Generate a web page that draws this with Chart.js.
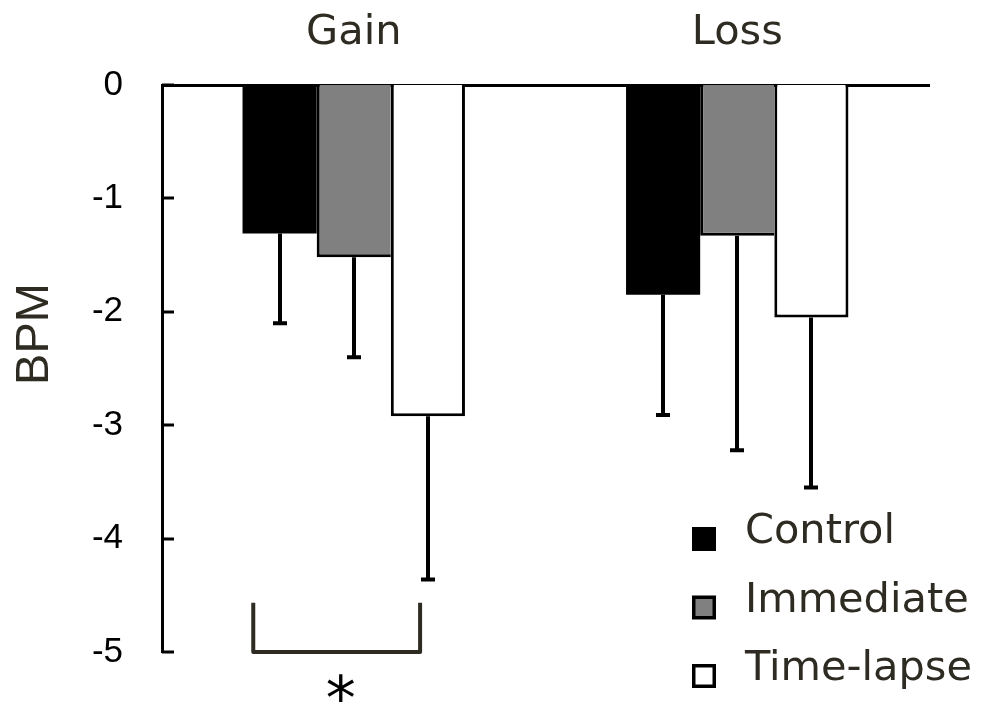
<!DOCTYPE html>
<html>
<head>
<meta charset="utf-8">
<script src="https://cdn.jsdelivr.net/npm/chart.js@4.4.1/dist/chart.umd.min.js"></script>
<style>
  html, body { margin: 0; padding: 0; background: #ffffff; }
  #wrap { width: 982px; height: 706px; }
</style>
</head>
<body>
<div id="wrap"><canvas id="chart" width="982" height="706"></canvas></div>
<script>
// Heart-rate change (BPM) by condition, with standard-error bars
const categories = ['Gain', 'Loss'];
const seriesNames = ['Control', 'Immediate', 'Time-lapse'];
const controlMeans = [-1.31, -1.85];
const controlErrors = [0.79, 1.06];
const immediateMeans = [-1.52, -1.33];
const immediateErrors = [0.88, 1.89];
const timelapseMeans = [-2.92, -2.05];
const timelapseErrors = [1.44, 1.50];
const yTicks = [0, -1, -2, -3, -4, -5];
const yAxisTitle = 'BPM';
// significance bracket: category index, x offsets in category units, y range in BPM
const sigCategory = 0;
const sigSpan = [-0.262, 0.173];
const sigRange = [-4.565, -5];
const sigLabel = '*';

const INK = '#2e2c22';

const extras = {
  id: 'extras',
  afterDatasetsDraw(chart) {
    const { ctx, scales: { y } } = chart;
    ctx.save();
    ctx.strokeStyle = '#000';
    ctx.lineWidth = 4;
    ctx.lineCap = 'butt';
    chart.data.datasets.forEach((ds, i) => {
      const meta = chart.getDatasetMeta(i);
      meta.data.forEach((bar, j) => {
        const yEnd = y.getPixelForValue(ds.data[j] - ds.errors[j]);
        const xc = Math.round(bar.x);
        ctx.beginPath();
        ctx.moveTo(xc, bar.y);
        ctx.lineTo(xc, yEnd);
        ctx.moveTo(xc - 7, yEnd);
        ctx.lineTo(xc + 7, yEnd);
        ctx.stroke();
      });
    });
    ctx.restore();
  },
  afterDraw(chart) {
    const { ctx, chartArea, scales: { x, y } } = chart;
    ctx.save();

    // inward tick marks on the value axis
    ctx.strokeStyle = '#000';
    ctx.lineWidth = 3;
    yTicks.forEach(v => {
      const py = Math.round(y.getPixelForValue(v));
      ctx.beginPath();
      ctx.moveTo(chartArea.left, py);
      ctx.lineTo(chartArea.left + 12, py);
      ctx.stroke();
    });

    // axis title
    ctx.fillStyle = INK;
    ctx.font = '47px "Liberation Sans", Arial, sans-serif';
    ctx.textAlign = 'center';
    ctx.textBaseline = 'alphabetic';
    ctx.translate(48, 334);
    ctx.rotate(-Math.PI / 2);
    ctx.fillText(yAxisTitle, 0, 0);
    ctx.setTransform(1, 0, 0, 1, 0, 0);

    // significance bracket
    const xl = x.getPixelForValue(sigCategory + sigSpan[0]);
    const xr = x.getPixelForValue(sigCategory + sigSpan[1]);
    const yt = y.getPixelForValue(sigRange[0]);
    const yb = y.getPixelForValue(sigRange[1]);
    ctx.strokeStyle = INK;
    ctx.lineWidth = 4;
    ctx.lineJoin = 'round';
    ctx.beginPath();
    ctx.moveTo(xl, yt);
    ctx.lineTo(xl, yb);
    ctx.lineTo(xr, yb);
    ctx.lineTo(xr, yt);
    ctx.stroke();

    ctx.fillStyle = '#000';
    ctx.font = '60px "DejaVu Sans", sans-serif';
    ctx.textAlign = 'left';
    ctx.textBaseline = 'alphabetic';
    const m = ctx.measureText(sigLabel);
    const inkW = m.actualBoundingBoxLeft + m.actualBoundingBoxRight;
    const inkH = m.actualBoundingBoxAscent + m.actualBoundingBoxDescent;
    const cx = (xl + xr) / 2 + 4;
    const cy = yb + 36;
    ctx.fillText(sigLabel, cx - inkW / 2 + m.actualBoundingBoxLeft, cy + inkH / 2 - m.actualBoundingBoxDescent);

    // legend
    const lx = 692, ly0 = 543, step = 68.5;
    ctx.font = '41.5px "DejaVu Sans", Verdana, sans-serif';
    ctx.textBaseline = 'alphabetic';
    chart.data.datasets.forEach((ds, i) => {
      const base = ly0 + i * step;
      const top = base - 16;
      ctx.fillStyle = '#000';
      ctx.fillRect(lx, top, 24, 24);
      if (i > 0) {
        ctx.fillStyle = ds.backgroundColor;
        ctx.fillRect(lx + 3.5, top + 3.5, 17, 17);
      }
      ctx.fillStyle = INK;
      ctx.fillText(ds.label, 745, base);
    });

    ctx.restore();
  }
};

const chart = new Chart(document.getElementById('chart'), {
  type: 'bar',
  data: {
    labels: categories,
    datasets: [
      {
        label: seriesNames[0],
        data: controlMeans,
        errors: controlErrors,
        backgroundColor: '#000000',
        borderColor: '#000000',
        borderWidth: 0
      },
      {
        label: seriesNames[1],
        data: immediateMeans,
        errors: immediateErrors,
        backgroundColor: '#808080',
        borderColor: '#000000',
        borderWidth: { top: 0, left: 3, right: 0, bottom: 3 }
      },
      {
        label: seriesNames[2],
        data: timelapseMeans,
        errors: timelapseErrors,
        backgroundColor: '#ffffff',
        borderColor: '#000000',
        borderWidth: { top: 0, left: 3, right: 3, bottom: 3 }
      }
    ]
  },
  options: {
    responsive: false,
    animation: false,
    devicePixelRatio: 1,
    layout: { padding: { left: 0, right: 53, top: 0, bottom: 54 } },
    datasets: {
      bar: { categoryPercentage: 0.58, barPercentage: 1.0, borderSkipped: 'start' }
    },
    plugins: {
      legend: { display: false },
      tooltip: { enabled: false },
      title: { display: false }
    },
    scales: {
      x: {
        type: 'category',
        position: 'top',
        offset: true,
        grid: { display: false, drawTicks: false },
        border: { display: true, color: '#000', width: 3 },
        ticks: {
          color: INK,
          font: { family: '"DejaVu Sans", Verdana, sans-serif', size: 41.5 },
          padding: 27,
          maxRotation: 0
        },
        afterFit(scale) {
          scale.height = 85;
          scale.paddingLeft = 0;
          scale.paddingRight = 0;
        }
      },
      y: {
        type: 'linear',
        position: 'left',
        min: -5,
        max: 0,
        grid: { display: false, drawTicks: false },
        border: { display: true, color: '#000', width: 3 },
        afterBuildTicks(scale) { scale.ticks = yTicks.map(v => ({ value: v })); },
        ticks: {
          color: '#000',
          font: { family: '"Liberation Sans", Arial, sans-serif', size: 35 },
          padding: 39
        },
        afterFit(scale) {
          scale.width = 162;
          scale.paddingTop = 0;
          scale.paddingBottom = 0;
        }
      }
    }
  },
  plugins: [extras]
});
</script>
</body>
</html>
